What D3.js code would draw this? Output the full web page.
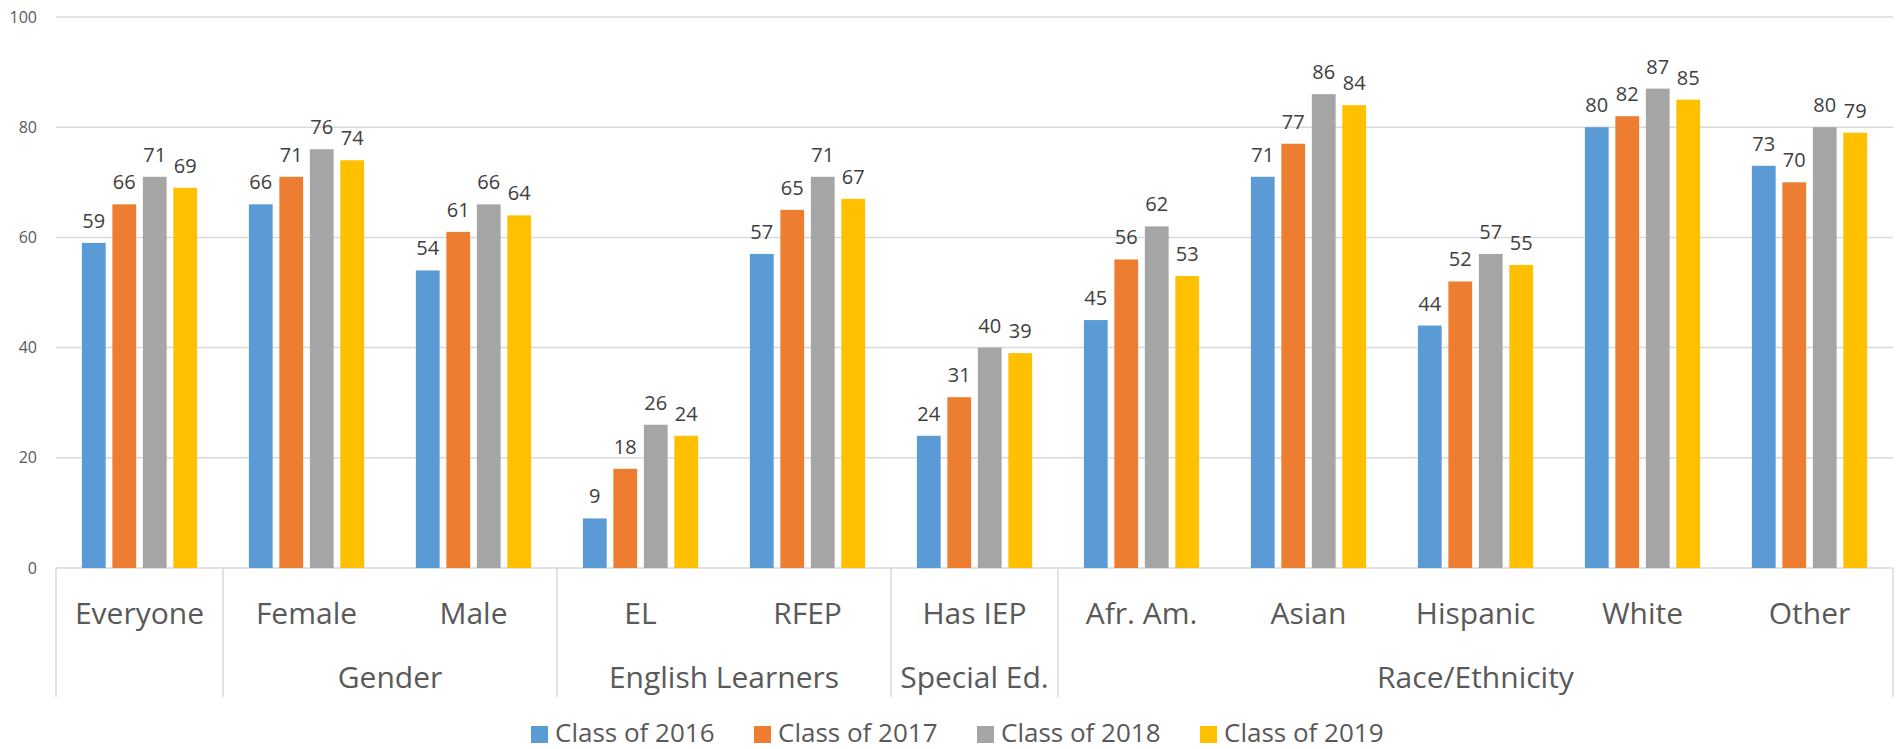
<!DOCTYPE html>
<html>
<head>
<meta charset="utf-8">
<script src="https://cdn.jsdelivr.net/npm/d3@7"></script>
<style>
  body { margin: 0; background: #fff; }
  text { font-family: "Open Sans", "Noto Sans", sans-serif; }
</style>
</head>
<body>
<div id="chart"></div>
<script>
// Data
const categories = ["Everyone", "Female", "Male", "EL", "RFEP", "Has IEP", "Afr. Am.", "Asian", "Hispanic", "White", "Other"];
const groups = [
  { name: "", start: 0, end: 0 },
  { name: "Gender", start: 1, end: 2 },
  { name: "English Learners", start: 3, end: 4 },
  { name: "Special Ed.", start: 5, end: 5 },
  { name: "Race/Ethnicity", start: 6, end: 10 },
];
const seriesNames = ["Class of 2016", "Class of 2017", "Class of 2018", "Class of 2019"];
const class2016 = [59, 66, 54, 9, 57, 24, 45, 71, 44, 80, 73];
const class2017 = [66, 71, 61, 18, 65, 31, 56, 77, 52, 82, 70];
const class2018 = [71, 76, 66, 26, 71, 40, 62, 86, 57, 87, 80];
const class2019 = [69, 74, 64, 24, 67, 39, 53, 84, 55, 85, 79];
const yTicks = [0, 20, 40, 60, 80, 100];
const colors = ["#5B9BD5", "#ED7D31", "#A5A5A5", "#FFC000"];

const seriesValues = [class2016, class2017, class2018, class2019];

// Dimensions
const width = 1900, height = 749;
const plot = { left: 56, right: 1893, top: 17, bottom: 568 };

const svg = d3.select("#chart")
  .append("svg")
  .attr("width", width)
  .attr("height", height);

// Scales
const x = d3.scaleBand().domain(categories).range([plot.left, plot.right]);
const x1 = d3.scaleBand()
  .domain(seriesNames)
  .range([x.bandwidth() * 0.155, x.bandwidth() * 0.845])
  .paddingInner(0.22);
const y = d3.scaleLinear().domain([0, 100]).range([plot.bottom, plot.top]);
const color = d3.scaleOrdinal().domain(seriesNames).range(colors);

// Gridlines
svg.append("g")
  .selectAll("line")
  .data(yTicks)
  .join("line")
  .attr("x1", plot.left)
  .attr("x2", plot.right)
  .attr("y1", (d) => y(d))
  .attr("y2", (d) => y(d))
  .attr("stroke", "#D9D9D9")
  .attr("stroke-width", 1.5);

// Y axis labels
const yAxis = svg.append("g")
  .attr("transform", "translate(37,0)")
  .call(d3.axisLeft(y).tickValues(yTicks).tickSize(0).tickPadding(0));
yAxis.select(".domain").remove();
yAxis.selectAll("text")
  .attr("fill", "#595959")
  .style("font-size", "16px")
  .style("font-family", '"Open Sans", sans-serif');

// Bars
const rows = categories.map((c, i) => ({
  category: c,
  values: seriesNames.map((s, j) => ({ series: s, value: seriesValues[j][i] })),
}));

const catG = svg.append("g")
  .selectAll("g")
  .data(rows)
  .join("g")
  .attr("transform", (d) => "translate(" + x(d.category) + ",0)");

catG.selectAll("rect")
  .data((d) => d.values)
  .join("rect")
  .attr("x", (d) => x1(d.series))
  .attr("y", (d) => y(d.value))
  .attr("width", x1.bandwidth())
  .attr("height", (d) => y(0) - y(d.value))
  .attr("fill", (d) => color(d.series));

catG.selectAll("text")
  .data((d) => d.values)
  .join("text")
  .attr("x", (d) => x1(d.series) + x1.bandwidth() / 2)
  .attr("y", (d) => y(d.value) - 15)
  .attr("text-anchor", "middle")
  .attr("fill", "#404040")
  .style("font-size", "20px")
  .text((d) => d.value);

// Category axis (two levels)
const sepBottom = 697;
const bounds = [0].concat(groups.map((g) => g.end + 1));
svg.append("g")
  .selectAll("line")
  .data(bounds)
  .join("line")
  .attr("x1", (i) => plot.left + i * x.step())
  .attr("x2", (i) => plot.left + i * x.step())
  .attr("y1", plot.bottom)
  .attr("y2", sepBottom)
  .attr("stroke", "#D9D9D9")
  .attr("stroke-width", 1.5);

svg.append("g")
  .selectAll("text")
  .data(categories)
  .join("text")
  .attr("x", (d) => x(d) + x.bandwidth() / 2)
  .attr("y", 624)
  .attr("text-anchor", "middle")
  .attr("fill", "#595959")
  .style("font-size", "30px")
  .text((d) => d);

svg.append("g")
  .selectAll("text")
  .data(groups.filter((g) => g.name))
  .join("text")
  .attr("x", (g) => plot.left + ((g.start + g.end + 1) / 2) * x.step())
  .attr("y", 688)
  .attr("text-anchor", "middle")
  .attr("fill", "#595959")
  .style("font-size", "30px")
  .text((g) => g.name);

// Legend
const legend = svg.append("g")
  .selectAll("g")
  .data(seriesNames)
  .join("g")
  .attr("transform", (d, i) => "translate(" + (531 + i * 223) + ",0)");

legend.append("rect")
  .attr("y", 726)
  .attr("width", 17)
  .attr("height", 17)
  .attr("fill", (d) => color(d));

legend.append("text")
  .attr("x", 24)
  .attr("y", 742)
  .attr("fill", "#595959")
  .style("font-size", "26px")
  .text((d) => d);
</script>
</body>
</html>
